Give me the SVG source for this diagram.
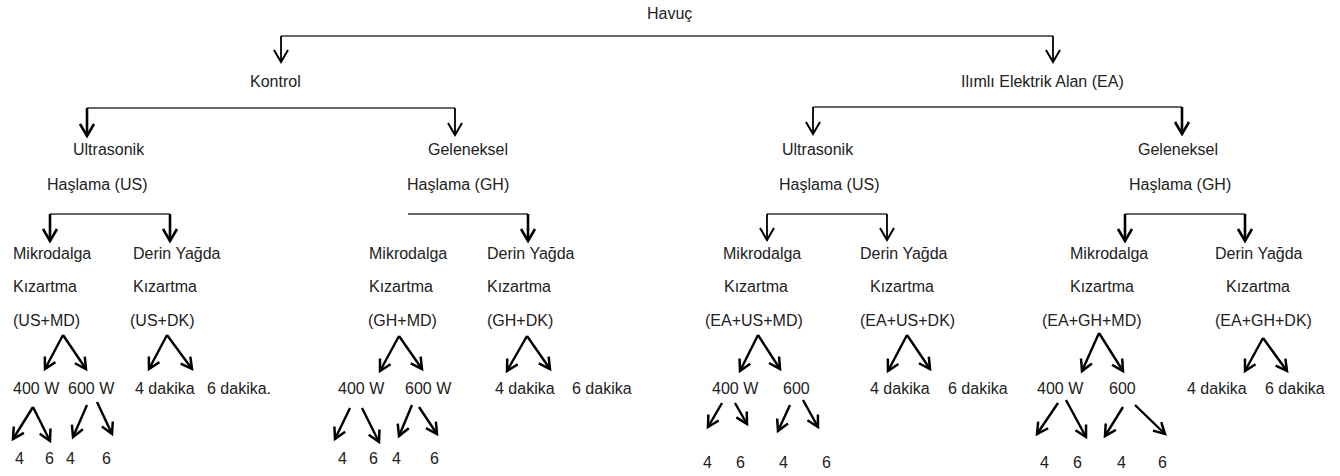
<svg xmlns="http://www.w3.org/2000/svg" width="1340" height="476" viewBox="0 0 1340 476">
<defs>
<marker id="ah" markerUnits="userSpaceOnUse" markerWidth="30" markerHeight="30" viewBox="-15 -15 30 30" refX="0" refY="0" orient="auto" overflow="visible">
<path d="M-12,-7 L0,0 L-12,7" fill="none" stroke="#000" stroke-width="2.6" stroke-linejoin="miter"/>
</marker>
<marker id="ahs" markerUnits="userSpaceOnUse" markerWidth="30" markerHeight="30" viewBox="-15 -15 30 30" refX="0" refY="0" orient="auto" overflow="visible">
<path d="M-12,-7 L0,0 L-12,7" fill="none" stroke="#000" stroke-width="2" stroke-linejoin="miter"/>
</marker>
<marker id="ahd" markerUnits="userSpaceOnUse" markerWidth="30" markerHeight="30" viewBox="-15 -15 30 30" refX="0" refY="0" orient="auto" overflow="visible">
<path d="M-11,-6 L0,0 L-11,6" fill="none" stroke="#000" stroke-width="2.5" stroke-linejoin="miter"/>
</marker>
</defs>
<style>
text{font-family:"Liberation Sans",Arial,sans-serif;font-size:16px;fill:#222}
.h{stroke:#333;stroke-width:1.4;fill:none}
.a{stroke:#000;stroke-width:2.6;fill:none;marker-end:url(#ah)}
.t{stroke:#000;stroke-width:1.8;fill:none;marker-end:url(#ahs)}
.d{stroke:#000;stroke-width:2.4;fill:none;marker-end:url(#ahd)}
</style>
<rect width="1340" height="476" fill="#fff"/>
<g id="connectors">
<path class="h" d="M281,36 H1053"/>
<path class="t" d="M281,36 V62"/>
<path class="t" d="M1053,36 V62"/>
<path class="h" d="M87,108 H455"/>
<path class="a" d="M87,108 V136"/>
<path class="t" d="M455,108 V135"/>
<path class="h" d="M813,107 H1182"/>
<path class="t" d="M813,107 V134"/>
<path class="a" d="M1182,107 V134"/>
<path class="h" d="M50,214 H170"/>
<path class="a" d="M50,214 V241"/>
<path class="a" d="M170,214 V241"/>
<path class="h" d="M408,214 H528"/>
<path class="a" d="M528,214 V241"/>
<path class="h" d="M767,214 H887"/>
<path class="t" d="M767,214 V240"/>
<path class="t" d="M887,214 V240"/>
<path class="h" d="M1125,214 H1245"/>
<path class="a" d="M1125,214 V241"/>
<path class="a" d="M1245,214 V241"/>
<path class="d" d="M63,335 L45,369"/><path class="d" d="M63,335 L86,369"/>
<path class="d" d="M167,335 L149,369"/><path class="d" d="M167,335 L192,369"/>
<path class="d" d="M399,336 L380,371"/><path class="d" d="M399,336 L422,369"/>
<path class="d" d="M527,336 L507,371"/><path class="d" d="M527,336 L550,369"/>
<path class="d" d="M758,335 L740,371"/><path class="d" d="M758,335 L780,369"/>
<path class="d" d="M907,335 L888,371"/><path class="d" d="M907,335 L930,369"/>
<path class="d" d="M1099,333 L1082,371"/><path class="d" d="M1099,333 L1123,371"/>
<path class="d" d="M1263,338 L1245,371"/><path class="d" d="M1263,338 L1287,371"/>
<path class="d" d="M33,407 L13,439"/><path class="d" d="M33,407 L50,441"/>
<path class="d" d="M87,405 L73,437"/><path class="d" d="M97,402 L112,434"/>
<path class="d" d="M350,408 L335,439"/><path class="d" d="M362,408 L379,442"/>
<path class="d" d="M412,405 L399,436"/><path class="d" d="M419,407 L437,434"/>
<path class="d" d="M722,403 L708,427"/><path class="d" d="M735,403 L747,424"/>
<path class="d" d="M790,405 L778,431"/><path class="d" d="M803,400 L818,427"/>
<path class="d" d="M1058,403 L1037,434"/><path class="d" d="M1066,400 L1086,437"/>
<path class="d" d="M1123,407 L1105,436"/><path class="d" d="M1135,405 L1165,434"/>
</g>
<g id="n-havuc"><text x="647" y="19">Havuç</text></g>
<g id="n-kontrol"><text x="250" y="87">Kontrol</text></g>
<g id="n-ea"><text x="961" y="87">Ilımlı Elektrik Alan (EA)</text></g>
<g id="n-k-us"><text x="73" y="155">Ultrasonik</text><text x="47" y="190">Haşlama (US)</text></g>
<g id="n-k-gh"><text x="428" y="155">Geleneksel</text><text x="407" y="190">Haşlama (GH)</text></g>
<g id="n-ea-us"><text x="782" y="155">Ultrasonik</text><text x="779" y="190">Haşlama (US)</text></g>
<g id="n-ea-gh"><text x="1138" y="155">Geleneksel</text><text x="1129" y="190">Haşlama (GH)</text></g>
<g id="n-us-md"><text x="13" y="259">Mikrodalga</text><text x="13" y="292">Kızartma</text><text x="13" y="326">(US+MD)</text></g>
<g id="n-us-dk"><text x="133" y="259">Derin Yağda</text><text x="133" y="292">Kızartma</text><text x="130" y="326">(US+DK)</text></g>
<g id="n-gh-md"><text x="369" y="259">Mikrodalga</text><text x="369" y="292">Kızartma</text><text x="368" y="326">(GH+MD)</text></g>
<g id="n-gh-dk"><text x="487" y="259">Derin Yağda</text><text x="487" y="292">Kızartma</text><text x="487" y="326">(GH+DK)</text></g>
<g id="n-ea-us-md"><text x="723" y="259">Mikrodalga</text><text x="724" y="292">Kızartma</text><text x="705" y="326">(EA+US+MD)</text></g>
<g id="n-ea-us-dk"><text x="860" y="259">Derin Yağda</text><text x="870" y="292">Kızartma</text><text x="860" y="326">(EA+US+DK)</text></g>
<g id="n-ea-gh-md"><text x="1070" y="259">Mikrodalga</text><text x="1070" y="292">Kızartma</text><text x="1042" y="326">(EA+GH+MD)</text></g>
<g id="n-ea-gh-dk"><text x="1215" y="259">Derin Yağda</text><text x="1226" y="292">Kızartma</text><text x="1215" y="326">(EA+GH+DK)</text></g>
<g id="n-l5-1"><text x="13" y="394">400 W</text><text x="68" y="394">600 W</text><text x="135" y="394">4 dakika</text><text x="207" y="394">6 dakika.</text></g>
<g id="n-l5-2"><text x="338" y="394">400 W</text><text x="405" y="394">600 W</text><text x="495" y="394">4 dakika</text><text x="572" y="394">6 dakika</text></g>
<g id="n-l5-3"><text x="712" y="394">400 W</text><text x="783" y="394">600</text><text x="870" y="394">4 dakika</text><text x="948" y="394">6 dakika</text></g>
<g id="n-l5-4"><text x="1037" y="394">400 W</text><text x="1109" y="394">600</text><text x="1187" y="394">4 dakika</text><text x="1265" y="394">6 dakika</text></g>
<g id="n-l6-1"><text x="15" y="464">4</text><text x="45" y="464">6</text><text x="66" y="464">4</text><text x="102" y="464">6</text></g>
<g id="n-l6-2"><text x="338" y="464">4</text><text x="369" y="464">6</text><text x="392" y="464">4</text><text x="430" y="464">6</text></g>
<g id="n-l6-3"><text x="703" y="468">4</text><text x="736" y="468">6</text><text x="779" y="468">4</text><text x="822" y="468">6</text></g>
<g id="n-l6-4"><text x="1040" y="468">4</text><text x="1073" y="468">6</text><text x="1117" y="468">4</text><text x="1158" y="468">6</text></g>
</svg>
